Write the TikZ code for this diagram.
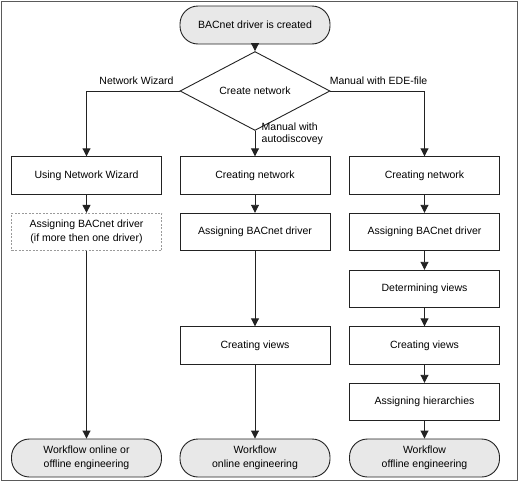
\documentclass[tikz,border=0pt]{standalone}
\usepackage{fontspec}
\setmainfont{Liberation Sans}
\usetikzlibrary{shapes.geometric,arrows.meta}
\definecolor{lineC}{HTML}{222222}
\definecolor{termfill}{HTML}{E8E8E8}
\definecolor{frameC}{HTML}{5A5A5A}
\definecolor{dashC}{HTML}{9A9A9A}
\begin{document}
\begin{tikzpicture}[x=1pt,y=-1pt,
  font=\fontsize{10.5}{13.5}\selectfont,
  every node/.style={inner sep=0pt},
  procbox/.style={draw=lineC,line width=0.9pt,minimum width=150pt,minimum height=37.5pt,align=center},
  dashbox/.style={draw=dashC,line width=0.8pt,dashed,dash pattern=on 2pt off 1.5pt,minimum width=150pt,minimum height=37.5pt,align=center},
  termbox/.style={draw=lineC,line width=0.9pt,fill=termfill,rounded corners=18pt,minimum width=150pt,minimum height=38pt,align=center},
  decbox/.style={draw=lineC,line width=0.9pt,diamond,minimum width=150pt,minimum height=56pt},
  flow/.style={draw=lineC,line width=0.9pt,-{Triangle[width=8pt,length=8pt]}},
  lbl/.style={font=\fontsize{10.5}{12}\selectfont}
]
\useasboundingbox (0,0) rectangle (520,482);
\draw[frameC,line width=1.3pt] (1.2,1.2) rectangle (517.6,480.2);

\node[termbox] (start) at (255,25) {BACnet driver is created};
\node[decbox] (dec) at (255,91) {Create network};

\node[procbox] (l1) at (86.5,175.5) {Using Network Wizard};
\node[dashbox] (l2) at (86.5,232) {Assigning BACnet driver\\(if more then one driver)};
\node[termbox] (lend) at (86.5,458) {Workflow online or\\offline engineering};

\node[procbox] (m1) at (255,175.5) {Creating network};
\node[procbox] (m2) at (255,232) {Assigning BACnet driver};
\node[procbox] (m4) at (255,345.5) {Creating views};
\node[termbox] (mend) at (255,458) {Workflow\\online engineering};

\node[procbox] (r1) at (424.5,175.5) {Creating network};
\node[procbox] (r2) at (424.5,232) {Assigning BACnet driver};
\node[procbox] (r3) at (424.5,289) {Determining views};
\node[procbox] (r4) at (424.5,345.5) {Creating views};
\node[procbox] (r5) at (424.5,402) {Assigning hierarchies};
\node[termbox] (rend) at (424.5,458) {Workflow\\offline engineering};

\node[lbl] (lw) at (136.5,81) {Network Wizard};
\node[lbl] (le) at (378.5,81) {Manual with EDE-file};
\node[lbl,align=left,anchor=west] (lm) at (261.5,133.5) {Manual with\\autodiscovey};

\draw[flow] (start) -- (dec);
\draw[flow] (dec.west) -| (l1.north);
\draw[flow] (dec.east) -| (r1.north);
\draw[flow] (dec.south) -- (m1.north);

\draw[flow] (l1) -- (l2);
\draw[flow] (l2) -- (lend);

\draw[flow] (m1) -- (m2);
\draw[flow] (m2) -- (m4);
\draw[flow] (m4) -- (mend);

\draw[flow] (r1) -- (r2);
\draw[flow] (r2) -- (r3);
\draw[flow] (r3) -- (r4);
\draw[flow] (r4) -- (r5);
\draw[flow] (r5) -- (rend);
\end{tikzpicture}
\end{document}
